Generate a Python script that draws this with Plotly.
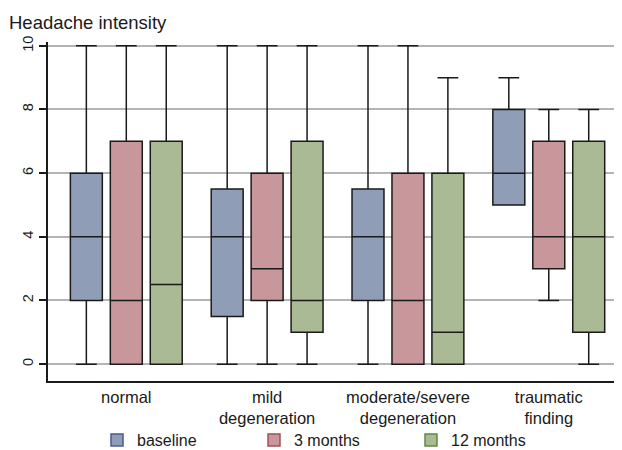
import plotly.graph_objects as go

groups = ["normal", "mild<br>degeneration", "moderate/severe<br>degeneration", "traumatic<br>finding"]
series = ["baseline", "3 months", "12 months"]

lower = {"baseline": [0, 0, 0, 5], "3 months": [0, 0, 0, 2], "12 months": [0, 0, 0, 0]}
q1 = {"baseline": [2, 1.5, 2, 5], "3 months": [0, 2, 0, 3], "12 months": [0, 1, 0, 1]}
median = {"baseline": [4, 4, 4, 6], "3 months": [2, 3, 2, 4], "12 months": [2.5, 2, 1, 4]}
q3 = {"baseline": [6, 5.5, 5.5, 8], "3 months": [7, 6, 6, 7], "12 months": [7, 7, 6, 7]}
upper = {"baseline": [10, 10, 10, 9], "3 months": [10, 10, 10, 8], "12 months": [10, 10, 9, 8]}

fills = {"baseline": "#909DB6", "3 months": "#C8979B", "12 months": "#A9BA94"}
edges = {"baseline": "#4A5C92", "3 months": "#A0505A", "12 months": "#5F8A3E"}

FONT = "Liberation Sans, Arial, sans-serif"
W, H = 614, 442  # page body keeps an 8px margin inside the 622x450 window

fig = go.Figure()
for s in series:
    fig.add_trace(go.Box(
        name=s, x=groups, q1=q1[s], median=median[s], q3=q3[s],
        lowerfence=lower[s], upperfence=upper[s],
        fillcolor=fills[s], line=dict(color="#1a1a1a", width=1.5),
        whiskerwidth=0.65, boxpoints=False, showlegend=False, hoverinfo="skip",
    ))
for s in series:
    fig.add_trace(go.Bar(
        name=s, x=[None], y=[None],
        marker=dict(color=fills[s], line=dict(color=edges[s], width=1.5)),
        showlegend=True,
    ))

fig.update_layout(
    width=W, height=H,
    margin=dict(l=40, r=0, t=34, b=69, autoexpand=False),
    paper_bgcolor="white", plot_bgcolor="white",
    boxmode="group", boxgap=0.149, boxgroupgap=0.2,
    font=dict(family=FONT, size=15, color="#1a1a1a"),
    title=dict(text="Headache intensity", x=1 / W, xanchor="left", xref="container",
               y=1 - 15 / H, yanchor="middle", yref="container",
               font=dict(size=18.5, family=FONT, color="#1a1a1a")),
    showlegend=True,
    legend=dict(orientation="h", xref="container", yref="container",
                x=89 / W, xanchor="left", y=1 - 432 / H, yanchor="middle",
                entrywidth=112, entrywidthmode="pixels",
                font=dict(size=16, family=FONT, color="#1a1a1a"),
                bgcolor="rgba(0,0,0,0)", traceorder="normal"),
    xaxis=dict(type="category", range=[-0.556, 3.52], showgrid=False,
               showline=True, linecolor="#1a1a1a", linewidth=1.5, automargin=False,
               ticks="", tickfont=dict(size=16.5), zeroline=False),
    yaxis=dict(range=[-0.53, 10.12], tickvals=[0, 2, 4, 6, 8, 10], tickangle=-90,
               showgrid=True, gridcolor="#B4B4B4", gridwidth=1.5, automargin=False,
               showline=True, linecolor="#1a1a1a", linewidth=1.5,
               ticks="outside", ticklen=7, tickcolor="#1a1a1a", tickwidth=1.5,
               tickfont=dict(size=14.5), zeroline=False),
)

fig.write_html("out.html")
